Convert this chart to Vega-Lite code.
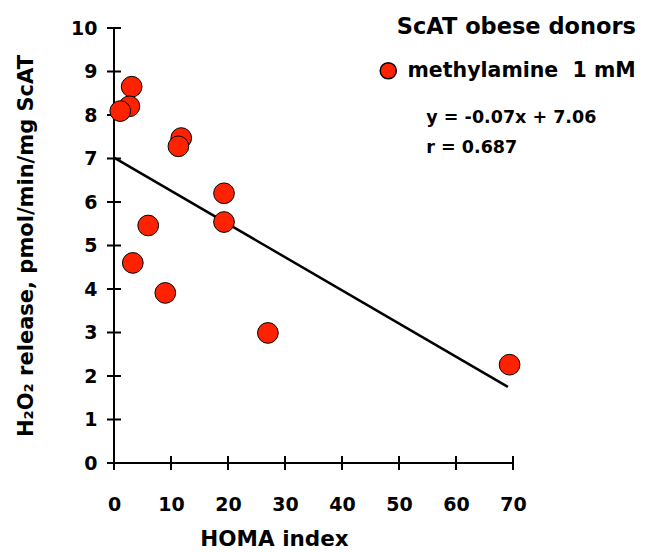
{
  "$schema": "https://vega.github.io/schema/vega-lite/v6.json",
  "width": 399,
  "height": 435,
  "autosize": "none",
  "padding": {"left": 114, "top": 28, "right": 133, "bottom": 89},
  "config": {
    "view": {"stroke": "transparent"},
    "font": "DejaVu Sans"
  },
  "datasets": {
    "points": [
      {"homa": 3.1, "h2o2": 8.65, "series": "methylamine\u00a0 1 mM"},
      {"homa": 2.7, "h2o2": 8.2, "series": "methylamine\u00a0 1 mM"},
      {"homa": 1.1, "h2o2": 8.09, "series": "methylamine\u00a0 1 mM"},
      {"homa": 11.8, "h2o2": 7.47, "series": "methylamine\u00a0 1 mM"},
      {"homa": 11.3, "h2o2": 7.28, "series": "methylamine\u00a0 1 mM"},
      {"homa": 19.3, "h2o2": 6.2, "series": "methylamine\u00a0 1 mM"},
      {"homa": 19.3, "h2o2": 5.54, "series": "methylamine\u00a0 1 mM"},
      {"homa": 6.0, "h2o2": 5.46, "series": "methylamine\u00a0 1 mM"},
      {"homa": 3.3, "h2o2": 4.6, "series": "methylamine\u00a0 1 mM"},
      {"homa": 9.0, "h2o2": 3.91, "series": "methylamine\u00a0 1 mM"},
      {"homa": 27.0, "h2o2": 2.99, "series": "methylamine\u00a0 1 mM"},
      {"homa": 69.4, "h2o2": 2.26, "series": "methylamine\u00a0 1 mM"}
    ],
    "fit": [
      {"homa": 0, "h2o2": 7.02},
      {"homa": 69.1, "h2o2": 1.75}
    ],
    "notes": [
      {"homa": 54.8, "h2o2": 7.93, "label": "y = -0.07x + 7.06"},
      {"homa": 54.8, "h2o2": 7.24, "label": "r = 0.687"}
    ],
    "yaxisline": [{"homa": 0, "h2o2": 5}],
    "xaxisline": [{"homa": 34.45, "h2o2": 0}],
    "yticks": [
      {"homa": 0, "h2o2": 0}, {"homa": 0, "h2o2": 1}, {"homa": 0, "h2o2": 2},
      {"homa": 0, "h2o2": 3}, {"homa": 0, "h2o2": 4}, {"homa": 0, "h2o2": 5},
      {"homa": 0, "h2o2": 6}, {"homa": 0, "h2o2": 7}, {"homa": 0, "h2o2": 8},
      {"homa": 0, "h2o2": 9}, {"homa": 0, "h2o2": 10}
    ],
    "xticks": [
      {"homa": 0, "h2o2": 0}, {"homa": 10, "h2o2": 0}, {"homa": 20, "h2o2": 0},
      {"homa": 30, "h2o2": 0}, {"homa": 40, "h2o2": 0}, {"homa": 50, "h2o2": 0},
      {"homa": 60, "h2o2": 0}, {"homa": 70, "h2o2": 0}
    ]
  },
  "encoding": {
    "x": {
      "field": "homa",
      "type": "quantitative",
      "scale": {"domain": [0, 70], "nice": false, "zero": false},
      "axis": {
        "domain": false,
        "ticks": true,
        "tickOpacity": 0,
        "tickSize": 7,
        "grid": false,
        "labelFont": "DejaVu Sans",
        "labelFontWeight": "bold",
        "labelFontSize": 19,
        "labelColor": "#000000",
        "titleFont": "DejaVu Sans",
        "titleFontWeight": "bold",
        "titleColor": "#000000",
        "title": "HOMA index",
        "titleFontSize": 21.5,
        "titleX": 160,
        "titlePadding": 14,
        "values": [0, 10, 20, 30, 40, 50, 60, 70],
        "labelPadding": 25,
        "labelFlush": false,
        "labelOverlap": false
      }
    },
    "y": {
      "field": "h2o2",
      "type": "quantitative",
      "scale": {"domain": [0, 10], "nice": false, "zero": false},
      "axis": {
        "domain": false,
        "ticks": true,
        "tickOpacity": 0,
        "tickSize": 7,
        "grid": false,
        "labelFont": "DejaVu Sans",
        "labelFontWeight": "bold",
        "labelFontSize": 19,
        "labelColor": "#000000",
        "titleFont": "DejaVu Sans",
        "titleFontWeight": "bold",
        "titleColor": "#000000",
        "title": "H₂O₂ release, pmol/min/mg ScAT",
        "titleFontSize": 21,
        "titlePadding": 34,
        "values": [0, 1, 2, 3, 4, 5, 6, 7, 8, 9, 10],
        "labelPadding": 10,
        "labelFlush": false,
        "labelOverlap": false
      }
    }
  },
  "layer": [
    {
      "data": {"name": "yaxisline"},
      "mark": {"type": "point", "shape": "M0,-1L0,1", "size": 189225, "filled": false, "color": "black", "strokeWidth": 2, "opacity": 1}
    },
    {
      "data": {"name": "xaxisline"},
      "mark": {"type": "point", "shape": "M-1,0L1,0", "size": 164025, "filled": false, "color": "black", "strokeWidth": 2, "opacity": 1}
    },
    {
      "data": {"name": "yticks"},
      "mark": {"type": "point", "shape": "M-1,0L1,0", "size": 196, "filled": false, "color": "black", "strokeWidth": 2, "opacity": 1}
    },
    {
      "data": {"name": "xticks"},
      "mark": {"type": "point", "shape": "M0,-1L0,1", "size": 196, "filled": false, "color": "black", "strokeWidth": 2, "opacity": 1}
    },
    {
      "data": {"name": "fit"},
      "mark": {"type": "line", "color": "black", "strokeWidth": 2.5}
    },
    {
      "data": {"name": "points"},
      "mark": {"type": "point", "shape": "circle", "filled": true, "size": 430, "stroke": "black", "strokeWidth": 1, "opacity": 1},
      "encoding": {
        "color": {
          "field": "series",
          "type": "nominal",
          "scale": {"range": ["#ff2200"]},
          "legend": {
            "orient": "none",
            "legendX": 264,
            "legendY": -12,
            "padding": 0,
            "title": "ScAT obese donors",
            "titleFont": "DejaVu Sans",
            "titleFontWeight": "bold",
            "titleFontSize": 22.5,
            "titleColor": "black",
            "titleAnchor": "end",
            "titleLimit": 500,
            "titlePadding": 22,
            "labelFont": "DejaVu Sans",
            "labelFontWeight": "bold",
            "labelFontSize": 20.5,
            "labelColor": "black",
            "labelOffset": 9,
            "labelLimit": 400,
            "symbolType": "circle",
            "symbolSize": 260,
            "symbolStrokeColor": "black",
            "symbolStrokeWidth": 1.5,
            "symbolOpacity": 1
          }
        }
      }
    },
    {
      "data": {"name": "notes"},
      "mark": {"type": "text", "align": "left", "baseline": "middle", "font": "DejaVu Sans", "fontWeight": "bold", "fontSize": 17.5, "color": "black"},
      "encoding": {"text": {"field": "label", "type": "nominal"}}
    }
  ]
}
